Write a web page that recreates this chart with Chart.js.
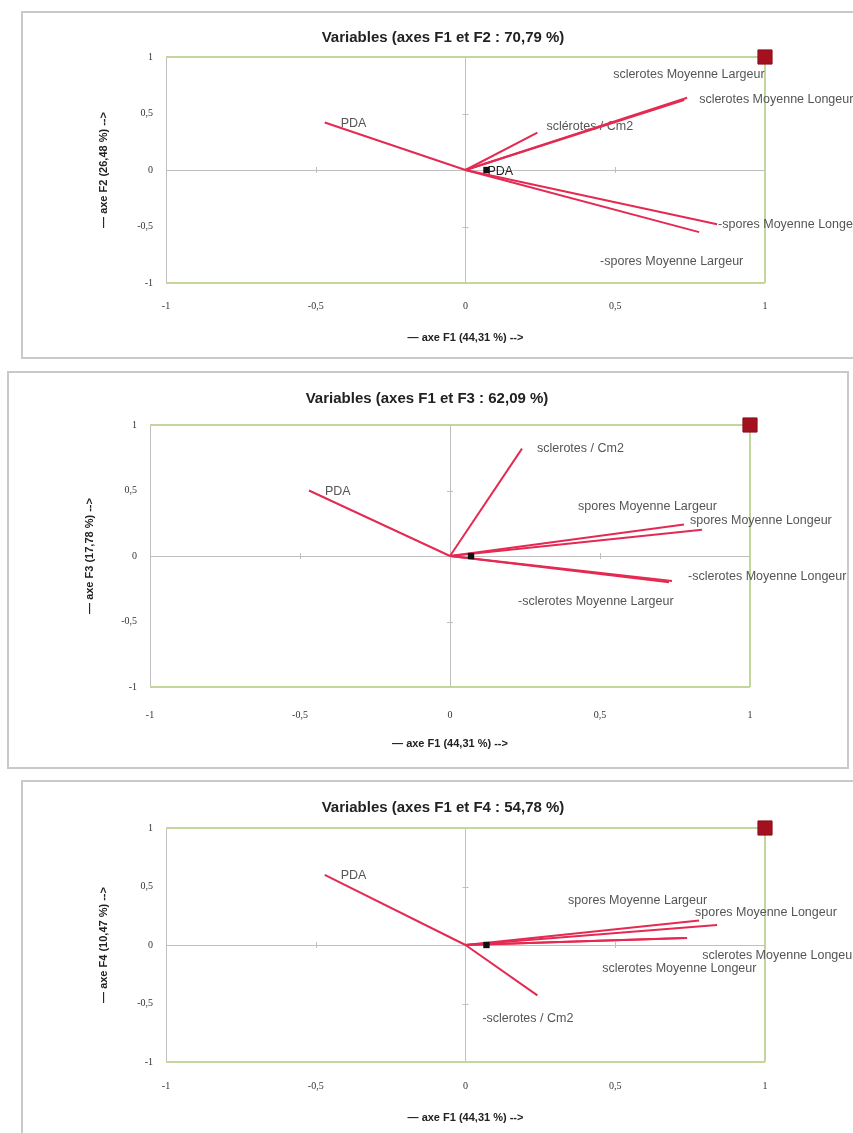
<!DOCTYPE html>
<html lang="fr">
<head>
<meta charset="utf-8">
<title>ACP - Variables</title>
<script src="https://cdn.jsdelivr.net/npm/chart.js@4.4.1/dist/chart.umd.min.js"></script>
<style>
  body { margin: 0; background: #fff; width: 853px; height: 1133px; position: relative; overflow: hidden; }
  .frame { position: absolute; border: 2px solid #c9c9c9; box-sizing: border-box; }
  canvas { position: absolute; }
</style>
</head>
<body>
<div class="frame" style="left:21px;top:11px;width:860px;height:348px"></div>
<div class="frame" style="left:7px;top:371px;width:842px;height:398px"></div>
<div class="frame" style="left:21px;top:780px;width:860px;height:380px"></div>

<canvas id="c1" width="840" height="346" style="left:22px;top:12px"></canvas>
<canvas id="c2" width="840" height="396" style="left:8px;top:372px"></canvas>
<canvas id="c3" width="840" height="352" style="left:22px;top:781px"></canvas>

<script>
const variables = ['sclerotes / Cm2', 'sclerotes Moyenne Longeur', 'sclerotes Moyenne Largeur',
                   'spores Moyenne Longeur', 'spores Moyenne Largeur', 'PDA'];
const f1 = [0.24, 0.74, 0.73, 0.84, 0.78, -0.47];
const f2 = [0.33, 0.64, 0.62, -0.48, -0.55, 0.42];
const f3 = [0.82, -0.19, -0.20, 0.20, 0.24, 0.50];
const f4 = [-0.43, 0.06, 0.06, 0.17, 0.21, 0.60];

// étiquettes telles qu'affichées sur chaque graphique
const labelsF2 = ['sclérotes / Cm2', 'sclerotes Moyenne Longeur', 'sclerotes Moyenne Largeur',
                  '-spores Moyenne Longeur', '-spores Moyenne Largeur', 'PDA'];
const labelsF3 = ['sclerotes / Cm2', '-sclerotes Moyenne Longeur', '-sclerotes Moyenne Largeur',
                  'spores Moyenne Longeur', 'spores Moyenne Largeur', 'PDA'];
const labelsF4 = ['-sclerotes / Cm2', 'sclerotes Moyenne Longeur', 'sclerotes Moyenne Longeur',
                  'spores Moyenne Longeur', 'spores Moyenne Largeur', 'PDA'];

const inertia = ['44,31', '26,48', '17,78', '10,47'];
const planeTotal = ['70,79', '62,09', '54,78'];
const tickValues = [-1, -0.5, 0, 0.5, 1];

// point noir près de l'origine et carré rouge du coin
const supX = [0.07];
const supY = [0];
const cornerX = [1];
const cornerY = [1];

const RED = '#e42a52';
const GREEN = '#c3d69b';
const GRAY = '#bfbfbf';

const fmt = v => String(v).replace('.', ',');

// placement fin (px) : étiquettes par rapport au bout du vecteur, titres en coordonnées du canvas
const panels = [
  { id: 'c1', ys: f2, axis: 2, total: planeTotal[0], labels: labelsF2, supLabel: 'PDA',
    nudge: [[9, -6], [12, 2], [-71, -25], [1, 0], [-99, 29], [16, 1]],
    padL: 99, plot: { left: 144, right: 743, top: 45, bottom: 271 },
    yTitleX: 82, xTitleY: 326, titleY: 26, tickPad: 23 },
  { id: 'c2', ys: f3, axis: 3, total: planeTotal[1], labels: labelsF3, supLabel: '',
    nudge: [[15, 0], [16, -4], [-151, 19], [-12, -9], [-106, -18], [16, 1]],
    padL: 96, plot: { left: 142, right: 742, top: 53, bottom: 315 },
    yTitleX: 82, xTitleY: 372, titleY: 27, tickPad: 28 },
  { id: 'c3', ys: f4, axis: 4, total: planeTotal[2], labels: labelsF4, supLabel: '',
    nudge: [[-55, 23], [15, 18], [-82, 31], [-22, -13], [-131, -20], [16, 1]],
    padL: 99, plot: { left: 144, right: 743, top: 47, bottom: 281 },
    yTitleX: 82, xTitleY: 337, titleY: 27, tickPad: 24 }
];

const axisTitleFont = { family: 'Liberation Sans', size: 11, weight: 'bold', lineHeight: 1.2 };
const titleFont = { family: 'Liberation Sans', size: 15, weight: 'bold', lineHeight: 1.2 };

const labelPlugin = {
  id: 'vectorLabels',
  beforeDatasetsDraw(chart) {
    const p = chart.options.plugins.vectorLabels;
    const ctx = chart.ctx;
    const xs = chart.scales.x, ys = chart.scales.y;
    ctx.save();
    // petites graduations sur les axes centraux
    ctx.strokeStyle = GRAY;
    ctx.lineWidth = 1;
    [-0.5, 0.5].forEach(v => {
      const px = Math.round(xs.getPixelForValue(v)) + 0.5;
      const py0 = ys.getPixelForValue(0);
      ctx.beginPath(); ctx.moveTo(px, py0 - 3); ctx.lineTo(px, py0 + 3); ctx.stroke();
      const py = Math.round(ys.getPixelForValue(v)) + 0.5;
      const px0 = xs.getPixelForValue(0);
      ctx.beginPath(); ctx.moveTo(px0 - 3, py); ctx.lineTo(px0 + 3, py); ctx.stroke();
    });
    ctx.font = '12.5px "Liberation Sans", Arial, sans-serif';
    ctx.fillStyle = '#555';
    ctx.textBaseline = 'middle';
    ctx.textAlign = 'left';
    p.labels.forEach((txt, i) => {
      const pt = chart.getDatasetMeta(i).data[1];
      ctx.fillText(txt, pt.x + p.nudge[i][0], pt.y + p.nudge[i][1]);
    });
    if (p.supLabel) {
      const sp = chart.getDatasetMeta(variables.length).data[0];
      ctx.fillStyle = '#222';
      ctx.fillText(p.supLabel, sp.x + 1, sp.y + 2);
    }
    ctx.restore();
  }
};

panels.forEach(pn => {
  const canvas = document.getElementById(pn.id);
  const W = canvas.width, H = canvas.height;
  const padL = pn.padL;
  const yWidth = pn.plot.left - padL;
  const xHeight = H - pn.plot.bottom;
  const lhT = titleFont.size * titleFont.lineHeight;
  const lhA = axisTitleFont.size * axisTitleFont.lineHeight;
  const tA = pn.titleY - lhT / 2;
  const tB = pn.plot.top - tA - lhT;

  const datasets = variables.map((v, i) => ({
    label: v,
    data: [{ x: 0, y: 0 }, { x: f1[i], y: pn.ys[i] }],
    showLine: true,
    borderColor: RED,
    borderWidth: 2,
    pointRadius: 0,
    order: 2
  }));
  datasets.push({
    label: 'sup',
    data: supX.map((x, i) => ({ x, y: supY[i] })),
    pointStyle: 'rect', pointRadius: 4.5,
    backgroundColor: '#111', borderColor: '#111', borderWidth: 0, order: 1
  });
  datasets.push({
    label: 'coin',
    data: cornerX.map((x, i) => ({ x, y: cornerY[i] })),
    pointStyle: 'rect', pointRadius: 10,
    backgroundColor: '#a3111f', borderColor: '#8a0e1a', borderWidth: 1, order: 0
  });

  const gridColor = c => {
    const v = c.tick.value;
    if (v === 1 || (c.scale.axis === 'y' && v === -1)) return GREEN;
    if (v === 0 || v === -1) return GRAY;
    return 'rgba(0,0,0,0)';
  };
  const gridWidth = c => {
    const v = c.tick.value;
    if (v === 1 || (c.scale.axis === 'y' && v === -1)) return 2;
    return 1;
  };

  new Chart(canvas, {
    type: 'scatter',
    data: { datasets },
    plugins: [labelPlugin],
    options: {
      responsive: false,
      animation: false,
      clip: false,
      layout: { padding: { left: padL, right: W - pn.plot.right, top: 0, bottom: 0 } },
      scales: {
        x: {
          min: -1, max: 1,
          afterBuildTicks: s => { s.ticks = tickValues.map(value => ({ value })); },
          afterFit: s => { s.height = xHeight; },
          ticks: { padding: pn.tickPad - 6, color: '#333', font: { family: 'Liberation Serif', size: 10 },
                   callback: v => fmt(v) },
          grid: { drawTicks: false, color: gridColor, lineWidth: gridWidth },
          border: { display: false },
          title: { display: true, text: '— axe F1 (' + inertia[0] + ' %) -->', color: '#222',
                   font: axisTitleFont, padding: { top: 0, bottom: H - pn.xTitleY - lhA / 2 } }
        },
        y: {
          min: -1, max: 1,
          afterBuildTicks: s => { s.ticks = tickValues.map(value => ({ value })); },
          afterFit: s => { s.width = yWidth; },
          ticks: { padding: 13, color: '#333', font: { family: 'Liberation Serif', size: 10 },
                   callback: v => fmt(v) },
          grid: { drawTicks: false, color: gridColor, lineWidth: gridWidth },
          border: { display: false },
          title: { display: true, text: '— axe F' + pn.axis + ' (' + inertia[pn.axis - 1] + ' %) -->',
                   color: '#222', font: axisTitleFont,
                   padding: { top: pn.yTitleX - padL - lhA / 2, bottom: 0 } }
        }
      },
      plugins: {
        legend: { display: false },
        tooltip: { enabled: false },
        title: {
          display: true,
          text: 'Variables (axes F1 et F' + pn.axis + ' : ' + pn.total + ' %)',
          color: '#222',
          font: titleFont,
          padding: { top: tA, bottom: tB }
        },
        vectorLabels: { labels: pn.labels, nudge: pn.nudge, supLabel: pn.supLabel }
      }
    }
  });
});
</script>
</body>
</html>
